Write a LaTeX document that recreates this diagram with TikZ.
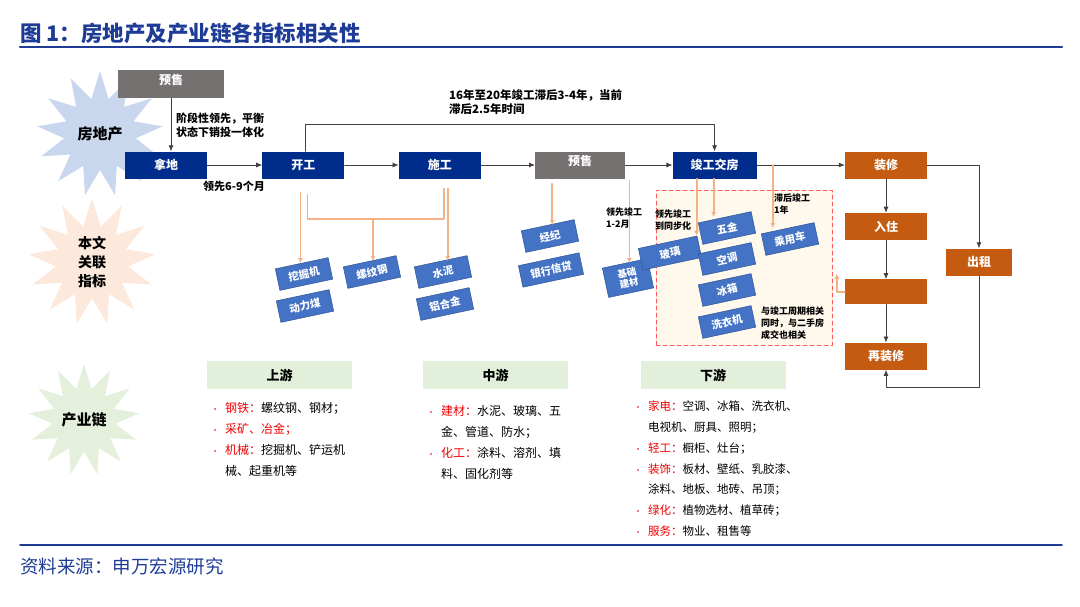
\documentclass[tikz,border=0pt]{standalone}
\usepackage{fontspec}
\setmainfont{Noto Sans CJK SC}
\usepackage{tikz}
\usetikzlibrary{arrows.meta}
\usetikzlibrary{positioning}
\usetikzlibrary{shapes.geometric}
\definecolor{navy}{RGB}{0,45,140}
\definecolor{titleblue}{RGB}{30,60,150}
\definecolor{stepgray}{RGB}{118,113,113}
\definecolor{rust}{RGB}{197,90,17}
\definecolor{peachline}{RGB}{244,177,131}
\definecolor{tagblue}{RGB}{68,114,196}
\definecolor{tagedge}{RGB}{47,85,151}
\definecolor{headgreen}{RGB}{226,239,218}
\definecolor{keyred}{RGB}{240,0,0}
\definecolor{zonered}{RGB}{255,90,90}
\definecolor{zonefill}{RGB}{255,249,237}
\definecolor{starblue}{RGB}{200,214,238}
\definecolor{starpeach}{RGB}{252,233,220}
\definecolor{stargreen}{RGB}{229,240,220}
\newcommand{\bul}{\makebox[14pt][l]{\textcolor{keyred}{\fontsize{8}{8}\selectfont\textbullet}}}
\newcommand{\kw}[1]{\textcolor{keyred}{#1}}
\begin{document}
\begin{tikzpicture}[line cap=round,line join=round,x=1pt,y=-1pt,
  blk/.style={fill=navy,text=white,font=\bfseries\fontsize{12}{12}\selectfont,minimum width=82pt,minimum height=27pt,inner sep=0pt},
  gry/.style={blk,fill=stepgray,text depth=9pt},
  org/.style={blk,fill=rust},
  tag/.style={fill=tagblue,draw=tagedge,line width=0.5pt,text=white,font=\bfseries\fontsize{10.5}{11}\selectfont,minimum width=54pt,minimum height=22pt,inner sep=1pt,rotate=12,align=center},
  notetext/.style={font=\bfseries\fontsize{11}{14}\selectfont,align=left,inner sep=0pt},
  tinynote/.style={font=\bfseries\fontsize{9}{12}\selectfont,align=left,inner sep=0pt},
  head/.style={fill=headgreen,font=\bfseries\fontsize{13}{13}\selectfont,minimum width=145pt,minimum height=28pt,inner sep=0pt},
  list/.style={font=\fontsize{12}{21}\selectfont,align=left,inner sep=0pt,anchor=north west},
  burst/.style={star,star points=13,star point ratio=1.75,inner sep=0pt,font=\bfseries\fontsize{15}{19}\selectfont,align=center},
  arr/.style={-{Latex[length=6pt,width=5pt]},line width=0.7pt,black!75},
  oline/.style={line width=1.8pt,peachline},
  oarr/.style={oline,-{Latex[length=5pt,width=5pt]}}]
\useasboundingbox (0,0) rectangle (1080,606);
\node[font=\bfseries\fontsize{21.5}{21.5}\selectfont,text=titleblue,anchor=west,inner sep=0pt] (title) at (20,33) {图 1：房地产及产业链各指标相关性};
\draw[titleblue,line width=2.2pt] (20,47) -- (1062,47);
\draw[titleblue,line width=1.8pt] (20,545) -- (1062,545);
\node[font=\fontsize{18.5}{18.5}\selectfont,text=titleblue,anchor=west,inner sep=0pt] (source) at (20,566) {资料来源：申万宏源研究};

\node[burst,fill=starblue,minimum size=126pt] (reBurst) at (100,134) {房地产};
\node[burst,fill=starpeach,minimum size=110pt,font=\bfseries\fontsize{14}{19}\selectfont] (idxBurst) at (92,262) {本文\\关联\\指标};
\node[burst,fill=stargreen,minimum size=108pt] (chainBurst) at (84,420) {产业链};

\node[gry,minimum width=106pt,minimum height=28pt] (preSale) at (171,84) {预售};
\node[blk] (land) at (166,165) {拿地};
\node[blk,right=55pt of land] (start) {开工};
\node[blk,right=54pt of start] (build) {施工};
\node[gry,minimum width=90pt,right=54pt of build] (sale) {预售};
\node[blk,minimum width=84pt,right=47pt of sale] (done) {竣工交房};
\node[org,right=88pt of done] (deco) {装修};
\node[org,below=34pt of deco] (live) {入住};
\node[org,minimum height=25pt,below=39pt of live] (blank) {};
\node[org,below=38pt of blank] (redeco) {再装修};
\node[org,minimum width=66pt] (rent) at (979,262) {出租};

\draw[arr] (preSale.south) -- (preSale.south |- land.north);
\draw[arr] (land) -- (start);
\draw[arr] (start) -- (build);
\draw[arr] (build) -- (sale);
\draw[arr] (sale) -- (done);
\draw[arr] (done) -- (deco);
\draw[arr] (deco) -- (live);
\draw[arr] (live) -- (blank);
\draw[arr] (blank) -- (redeco);
\draw[arr] (deco.east) -| (rent.north);
\coordinate (loopLow) at (0,387);
\draw[arr] (rent.south) -- (rent.south |- loopLow) -| (redeco.south);
\coordinate (loopTop) at (0,124);
\draw[arr] ([xshift=2pt]start.north) -- ([xshift=2pt]start.north |- loopTop) -| (done.north);

\node[draw=zonered,fill=zonefill,dash pattern=on 4pt off 3pt,line width=1pt,minimum width=176pt,minimum height=155pt] (zone) at (744,267.5) {};

\node[tag] (digger) at (304,274) {挖掘机};
\node[tag] (coal) at (305,306) {动力煤};
\node[tag] (rebar) at (372,272) {螺纹钢};
\node[tag] (cement) at (443,272) {水泥};
\node[tag] (alloy) at (445,304) {铝合金};
\node[tag] (broker) at (550,236) {经纪};
\node[tag,minimum width=62pt] (credit) at (551,270) {银行信贷};
\node[tag,minimum width=46pt,minimum height=30pt,font=\bfseries\fontsize{9.5}{11}\selectfont] (basic) at (628,278) {基础\\建材};
\node[tag,minimum width=60pt] (glass) at (670,253) {玻璃};
\node[tag] (hardware) at (727,228) {五金};
\node[tag] (aircon) at (727,259) {空调};
\node[tag] (fridge) at (727,290) {冰箱};
\node[tag] (washer) at (727,322) {洗衣机};
\node[tag] (car) at (790,239) {乘用车};

\draw[oarr] ([xshift=-3pt,yshift=-14pt]start.south) -- ([xshift=-3pt]start.south |- digger.north);
\coordinate (bracket) at (373,219);
\draw[oline] ([xshift=4pt,yshift=-16pt]start.south) |- (bracket) -| ([xshift=4pt,yshift=-10pt]build.south);
\draw[oarr] (bracket) -- (bracket |- rebar.north);
\draw[oarr] ([xshift=8pt,yshift=-10pt]build.south) -- ([xshift=8pt]build.south |- cement.north);
\draw[oarr] ([xshift=-28pt,yshift=-5pt]sale.south) -- ([xshift=-28pt]sale.south |- broker.north);
\draw[oarr] ([xshift=4pt,yshift=-2pt]sale.south east) -- ([xshift=4pt]sale.south east |- basic.north);
\draw[oarr] ([xshift=-18pt]done.south) -- ([xshift=-18pt]done.south |- glass.north east);
\draw[oarr] ([xshift=-1pt]done.south) -- ([xshift=-1pt]done.south |- hardware.north);
\draw[oarr] ([xshift=16pt]done.east) -- ([xshift=16pt]done.east |- car.north);
\coordinate (zoneTip) at ([xshift=-8pt,yshift=18pt]blank.west);
\draw[oarr] (blank.west) -| (zoneTip);

\node[notetext,anchor=west] (saleNote) at (176,125) {阶段性领先，平衡\\状态下销投一体化};
\node[notetext,font=\bfseries\fontsize{11.5}{14}\selectfont,anchor=north west] (lagNote) at (449,89) {16年至20年竣工滞后3-4年，当前\\滞后2.5年时间};
\node[notetext] (leadNote) at (234,186) {领先6-9个月};
\node[tinynote,anchor=north west] (matNote) at (606,207) {领先竣工\\1-2月};
\node[tinynote,anchor=north west] (syncNote) at (655,209) {领先竣工\\到同步化};
\node[tinynote,anchor=north west] (carNote) at (774,193) {滞后竣工\\1年};
\node[tinynote,anchor=north west] (homeNote) at (761,306) {与竣工周期相关\\同时，与二手房\\成交也相关};

\node[head] (upHead) at (279.5,375) {上游};
\node[head] (midHead) at (495.5,375) {中游};
\node[head] (downHead) at (713,375) {下游};

\node[list] (upList) at (211,402) {\bul\kw{钢铁：}螺纹钢、钢材；\\ \bul\kw{采矿、冶金；}\\ \bul\kw{机械：}挖掘机、铲运机\\ \hspace*{14pt}械、起重机等};
\node[list] (midList) at (427,405) {\bul\kw{建材：}水泥、玻璃、五\\ \hspace*{14pt}金、管道、防水；\\ \bul\kw{化工：}涂料、溶剂、填\\ \hspace*{14pt}料、固化剂等};
\node[list,font=\fontsize{11.5}{20.7}\selectfont] (downList) at (634,401) {\bul\kw{家电：}空调、冰箱、洗衣机、\\ \hspace*{14pt}电视机、厨具、照明；\\ \bul\kw{轻工：}橱柜、灶台；\\ \bul\kw{装饰：}板材、壁纸、乳胶漆、\\ \hspace*{14pt}涂料、地板、地砖、吊顶；\\ \bul\kw{绿化：}植物选材、植草砖；\\ \bul\kw{服务：}物业、租售等};
\end{tikzpicture}
\end{document}
